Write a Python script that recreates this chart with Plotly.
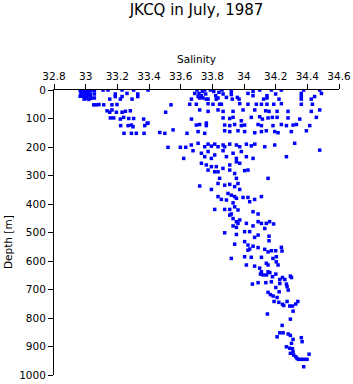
import plotly.graph_objects as go

# Salinity / depth readings (approximate)
salinity = [
    # near-surface cluster around 33.0
    32.965, 32.98, 32.995, 33.01, 33.025, 33.04,
    32.97, 32.985, 33.0, 33.015, 33.03,
    32.965, 32.98, 32.995, 33.01, 33.03,
    32.99, 33.005, 33.02, 33.035,
    # upper-left scatter
    33.055, 33.055, 33.055, 33.11, 33.141, 33.152, 33.187, 33.187, 33.219, 33.23, 33.23,
    33.261, 33.293, 33.303, 33.329, 33.329, 33.394, 33.539, 33.505,
    33.051, 33.068, 33.084, 33.114, 33.166, 33.198,
    33.135, 33.152, 33.166, 33.194, 33.23, 33.251, 33.282,
    33.156, 33.177, 33.219, 33.24, 33.272, 33.303, 33.366, 33.394,
    # upper-right scatter
    33.703, 33.716, 33.731, 33.741, 33.752, 33.758, 33.72, 33.737, 33.689, 33.71, 33.762,
    33.788, 33.809, 33.821, 33.836, 33.842, 33.825,
    33.861, 33.868, 33.889, 33.92, 33.92, 33.926, 33.958, 33.969,
    34.025, 34.057, 34.057, 34.099, 34.124, 34.145, 34.145, 34.173, 34.2, 34.221, 34.236,
    34.362, 34.362, 34.362, 34.377, 34.425, 34.446, 34.478, 34.489,
    33.668, 33.773,
    33.657, 33.699, 33.773, 33.804, 33.846, 33.857, 33.973, 34.025, 34.078, 34.110, 34.145,
    34.188, 34.236, 34.362, 34.432,
    33.72, 33.773, 33.836, 33.868, 33.931, 33.994, 34.068, 34.137, 34.158, 34.209, 34.278,
    34.425, 34.478,
    33.668, 33.762, 33.868, 33.91, 33.931, 33.983, 34.046, 34.099, 34.116, 34.152, 34.179,
    34.209, 34.278, 34.352, 34.457,
    # 115-240 m, left part
    33.221, 33.268, 33.289, 33.299, 33.373, 33.388,
    33.242, 33.289, 33.32, 33.369, 33.468, 33.5, 33.552, 33.64,
    33.52, 33.598, 33.632, 33.619,
    # 115-240 m, right part
    33.699, 33.72, 33.762, 33.878, 33.91, 33.941, 33.983, 34.004, 34.089, 34.11, 34.183,
    34.236, 34.268, 34.31, 34.331, 34.415,
    33.71, 33.752, 33.878, 33.91, 33.962, 34.004, 34.068, 34.11, 34.141, 34.194, 34.215,
    34.299, 34.394,
    33.667, 33.71, 33.752, 33.773, 33.794, 33.815, 33.836, 33.868, 33.878, 33.91, 33.952,
    33.973, 34.015, 34.046, 34.068, 34.131, 34.194, 34.32, 34.478,
    33.678, 33.731, 33.752, 33.773, 33.794, 33.815, 33.868, 33.889, 33.931, 33.952, 33.983,
    34.015, 34.057, 34.268,
    # 250-625 m band
    33.731, 33.762, 33.794, 33.825, 33.867, 33.91, 33.952, 33.973, 33.773, 33.815, 33.836,
    33.91, 33.941, 34.004, 34.025, 33.846, 34.152, 33.952, 33.962, 33.836, 33.878, 33.91,
    33.941, 33.72, 33.794, 33.973, 33.899, 33.92, 33.941, 33.952, 33.836, 33.857, 33.889,
    33.994, 34.025, 34.036, 34.067, 34.11, 33.931, 33.941, 33.815, 33.878, 33.91, 33.962,
    34.057, 34.089, 33.92, 33.931, 33.91, 33.973, 33.952, 33.962, 34.015, 34.089, 34.11,
    34.141, 34.162, 34.187, 33.931, 33.952, 34.057, 34.131, 33.878, 33.952, 34.004, 34.036,
    34.089, 34.158, 34.004, 34.067, 34.158, 33.941, 34.025, 34.057, 34.036, 34.025, 34.089,
    34.131, 34.152, 34.173, 34.2, 34.204, 33.92, 34.004, 34.046, 34.11, 34.183, 34.204,
    34.015, 34.067, 34.099, 34.141, 34.152, 34.215,
    34.236, 34.24,
    # 635-975 m band
    34.11, 34.152, 34.163, 34.104, 34.121, 34.142, 34.201, 34.18, 34.226, 34.243, 34.258,
    34.293, 34.3, 34.053, 34.089, 34.138, 34.173, 34.226, 34.268, 34.272, 34.201, 34.279,
    34.222, 34.152, 34.167, 34.184, 34.209, 34.272, 34.34, 34.22, 34.19, 34.243, 34.251,
    34.289, 34.306, 34.327, 34.31, 34.148, 34.293, 34.241, 34.226, 34.247, 34.279, 34.293,
    34.209, 34.31, 34.3, 34.268, 34.289, 34.306, 34.31, 34.293, 34.314, 34.327, 34.335,
    34.344,
    34.362, 34.367, 34.411, 34.362, 34.379, 34.398, 34.377,
]

depth = [
    2, 0, 3, 1, 2, 0,
    12, 10, 13, 11, 14,
    22, 21, 24, 20, 23,
    32, 30, 33, 29,
    2, 14, 28, 0, 0, 32, 14, 23, 32, 0, 23,
    12, 32, 0, 14, 23, 0, 52, 78,
    52, 52, 51, 52, 52, 51,
    73, 78, 70, 78, 78, 75, 73,
    98, 98, 102, 96, 100, 100, 102, 116,
    0, 12, 20, 28, 0, 14, 28, 5, 12, 23, 32,
    0, 5, 20, 28, 8, 32,
    0, 14, 26, 5, 16, 32, 26, 32,
    12, 5, 20, 0, 32, 20, 28, 0, 14, 32, 0,
    12, 23, 32, 0, 32, 23, 0, 12,
    32, 32,
    50, 50, 48, 50, 50, 50, 48, 50, 50, 50, 50,
    50, 48, 50, 50,
    70, 75, 70, 75, 75, 70, 70, 73, 75, 75, 75,
    75, 70,
    102, 116, 98, 100, 96, 108, 96, 94, 102, 98, 96,
    96, 98, 102, 96,
    125, 125, 123, 129, 125, 117,
    152, 152, 152, 152, 149, 152, 140, 152,
    201, 201, 201, 240,
    123, 121, 125, 123, 125, 121, 125, 123, 121, 125, 125,
    121, 125, 123, 121, 125,
    146, 152, 143, 146, 143, 146, 150, 146, 143, 146, 150,
    146, 143,
    193, 187, 199, 190, 197, 190, 199, 193, 199, 190, 193,
    199, 190, 196, 190, 199, 193, 187, 211,
    213, 222, 234, 216, 240, 228, 213, 234, 222, 240, 216,
    234, 240, 234,
    257, 263, 269, 269, 275, 263, 252, 257, 281, 287, 287,
    281, 293, 283, 281, 310, 310, 310, 328, 328, 334, 331,
    339, 337, 349, 349, 363, 369, 374, 380, 374, 384, 386,
    377, 377, 392, 384, 374, 396, 410, 419, 419, 419, 421,
    427, 435, 435, 451, 439, 456, 462, 468, 468, 462, 468,
    468, 462, 470, 477, 482, 477, 486, 501, 507, 497, 497,
    509, 513, 532, 517, 529, 541, 544, 548, 558, 562, 553,
    559, 568, 564, 564, 585, 591, 585, 587, 587, 591, 603,
    614, 618, 625, 608, 614, 614,
    552, 565,
    638, 638, 641, 646, 649, 649, 646, 655, 665, 658, 665,
    653, 658, 681, 676, 676, 673, 679, 681, 690, 693, 702,
    708, 710, 718, 723, 728, 742, 742, 745, 742, 752, 756,
    758, 758, 751, 776, 786, 804, 826, 852, 852, 856, 861,
    866, 875, 889, 901, 906, 908, 919, 924, 930, 936, 942,
    945,
    869, 883, 927, 945, 945, 945, 971,
]

x_tickvals = [32.8, 33.0, 33.2, 33.4, 33.6, 33.8, 34.0, 34.2, 34.4, 34.6]
x_ticktext = ["32.8", "33", "33.2", "33.4", "33.6", "33.8", "34", "34.2", "34.4", "34.6"]
y_tickvals = [0, 100, 200, 300, 400, 500, 600, 700, 800, 900, 1000]

FONT = "DejaVu Sans"

fig = go.Figure(
    go.Scatter(
        x=salinity,
        y=depth,
        mode="markers",
        marker=dict(symbol="square", size=3.5, color="#0000FF", line=dict(width=0)),
        hoverinfo="skip",
    )
)

axis_common = dict(
    showline=True,
    linecolor="black",
    linewidth=1,
    ticks="outside",
    ticklen=5,
    tickwidth=1,
    tickcolor="black",
    showgrid=False,
    zeroline=False,
    automargin=False,
    tickfont=dict(family=FONT, size=10.5, color="black"),
)

fig.update_layout(
    width=353,
    height=384,
    margin=dict(l=54, r=14, t=90, b=9),
    paper_bgcolor="white",
    plot_bgcolor="white",
    showlegend=False,
    title=dict(
        text="JKCQ in July, 1987",
        font=dict(family=FONT, size=15, color="black"),
        x=0.5,
        xref="paper",
        xanchor="center",
        y=1 - 10 / 384,
        yref="container",
        yanchor="middle",
    ),
    xaxis=dict(
        side="top",
        range=[32.8, 34.6],
        tickvals=x_tickvals,
        ticktext=x_ticktext,
        title=dict(text="Salinity", font=dict(family=FONT, size=10.5, color="black"), standoff=4),
        **axis_common,
    ),
    yaxis=dict(
        range=[1000, 0],
        tickvals=y_tickvals,
        **axis_common,
    ),
    annotations=[
        dict(
            text="Depth [m]",
            textangle=-90,
            xref="paper",
            yref="paper",
            x=(8 - 54) / 285,
            y=(375 - 242) / 285,
            xanchor="center",
            yanchor="middle",
            showarrow=False,
            font=dict(family=FONT, size=10.5, color="black"),
        )
    ],
)

fig.write_html("out.html")
